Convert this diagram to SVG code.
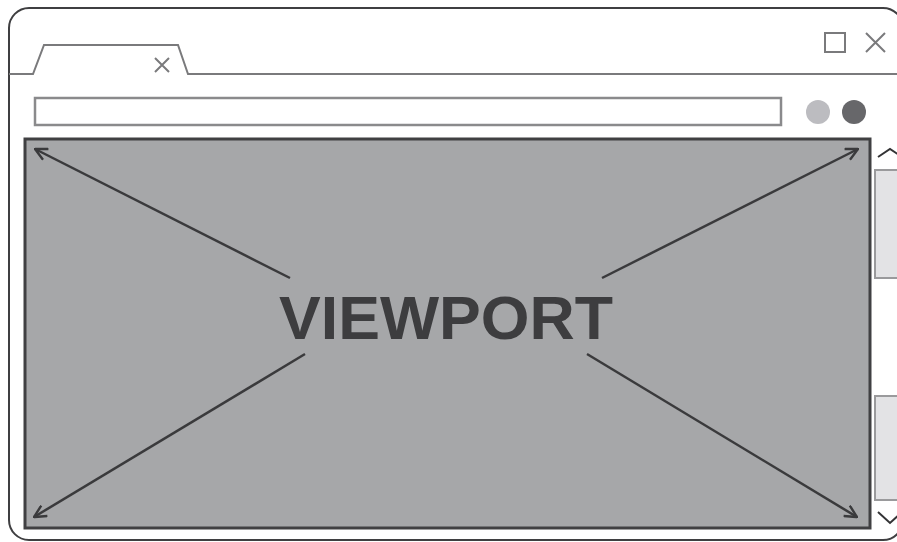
<svg xmlns="http://www.w3.org/2000/svg" width="897" height="542" viewBox="0 0 897 542">
<style>
.frame{fill:#fff;stroke:#3f3f41;stroke-width:2}
.gray{fill:none;stroke:#7a7a7c;stroke-width:2}
.arrow{stroke:#3a3a3c;stroke-width:2.5;fill:none;marker-end:url(#ah)}
.chev{fill:none;stroke:#333335;stroke-width:2}
.thumb{fill:#e3e3e5;stroke:#9a9a9c;stroke-width:2}
</style>
<defs>
<marker id="ah" viewBox="0 0 14 14" refX="13" refY="7" markerWidth="14" markerHeight="14" markerUnits="userSpaceOnUse" orient="auto">
<path d="M1,1 L13,7 L1,13" fill="none" stroke="#3a3a3c" stroke-width="2.4"/>
</marker>
</defs>
<rect width="897" height="542" fill="#fff"/>
<g id="window">
<rect class="frame" x="9" y="8" width="894" height="532" rx="20"/>
<path class="gray" d="M9,74 H33 L44,45 H178 L188,74 H903"/>
<path class="gray" d="M155,58 L169,72 M169,58 L155,72"/>
<rect class="gray" x="825" y="33" width="20" height="19"/>
<path class="gray" d="M866,33 L885,52 M885,33 L866,52"/>
</g>
<g id="addressbar">
<rect x="35" y="98" width="746" height="27" fill="#fff" stroke="#8a8a8c" stroke-width="2.5"/>
<circle cx="818" cy="112" r="12" fill="#bcbcc0"/>
<circle cx="854" cy="112" r="12" fill="#67676a"/>
</g>
<g id="scrollbar">
<rect class="thumb" x="875" y="170" width="30" height="108"/>
<rect class="thumb" x="875" y="396" width="30" height="104"/>
<path class="chev" d="M878,157 L890,149 L902,157"/>
<path class="chev" d="M878,512 L890,523 L902,512"/>
</g>
<g id="viewport">
<rect x="25" y="139" width="845" height="389" fill="#a6a7a9" stroke="#404042" stroke-width="3"/>
<text x="446" y="339" text-anchor="middle" font-family="'Liberation Sans', Arial, sans-serif" font-weight="bold" font-size="61" fill="#3d3d3f" textLength="334" lengthAdjust="spacingAndGlyphs">VIEWPORT</text>
</g>
<g id="connectors">
<line class="arrow" x1="290" y1="278" x2="35" y2="149"/>
<line class="arrow" x1="602" y1="278" x2="858" y2="149"/>
<line class="arrow" x1="305" y1="354" x2="34" y2="517"/>
<line class="arrow" x1="587" y1="354" x2="857" y2="517"/>
</g>
</svg>
